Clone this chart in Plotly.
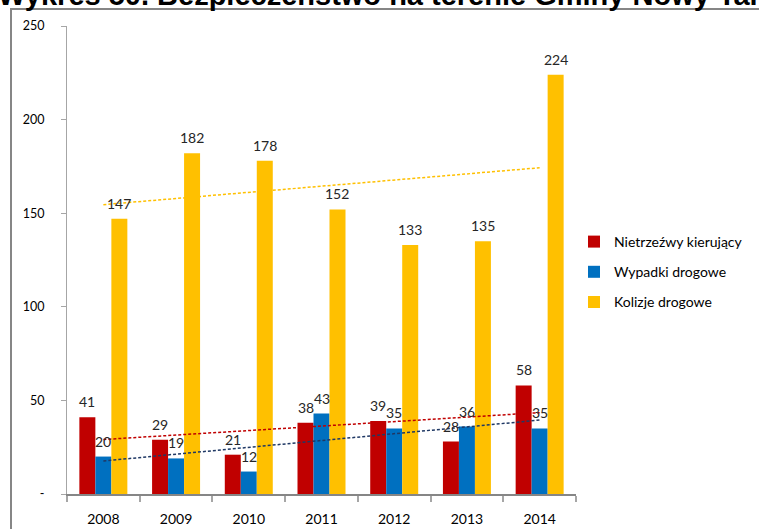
import numpy as np
import plotly.graph_objects as go

# Road safety in Nowy Targ municipality, 2008-2014
years = ["2008", "2009", "2010", "2011", "2012", "2013", "2014"]
drunk_drivers = [41, 29, 21, 38, 39, 28, 58]      # Nietrzeźwy kierujący
accidents = [20, 19, 12, 43, 35, 36, 35]          # Wypadki drogowe
collisions = [147, 182, 178, 152, 133, 135, 224]  # Kolizje drogowe

series_names = ["Nietrzeźwy kierujący", "Wypadki drogowe", "Kolizje drogowe"]
bar_colors = ["#C00000", "#0070C0", "#FFC000"]
trend_colors = ["#C00000", "#1F3864", "#FFC000"]

y_tick_vals = [0, 50, 100, 150, 200, 250]
y_tick_text = ["-", "50", "100", "150", "200", "250"]

title_text = "Wykres 50. Bezpieczeństwo na terenie Gminy Nowy Targ"

FONT = "Lato"
W, H = 759, 529
M_L, M_R, M_T, M_B = 67, 183, 26, 35

fig = go.Figure()
all_series = [drunk_drivers, accidents, collisions]

for name, vals, col in zip(series_names, all_series, bar_colors):
    fig.add_trace(go.Bar(
        x=years, y=vals, name=name, marker_color=col, marker_line_width=0,
        legendgroup=name, hoverinfo="skip",
    ))

# linear trend lines, fitted over the category index
idx = np.arange(len(years))
for name, vals, col in zip(series_names, all_series, trend_colors):
    slope, intercept = np.polyfit(idx, vals, 1)
    fig.add_trace(go.Scatter(
        x=years, y=slope * idx + intercept, mode="lines",
        line=dict(color=col, width=1.5, dash="3px,2px"),
        showlegend=False, hoverinfo="skip",
    ))

# value labels above each bar (category axis -> annotations use the category index)
plot_w = W - M_L - M_R
cat_w = plot_w / len(years)
bar_w = cat_w * (1 - 0.34) / 3
for k, vals in enumerate(all_series):
    for ci, v in enumerate(vals):
        fig.add_annotation(
            x=ci, y=v, xref="x", yref="y", text=str(v), showarrow=False,
            xshift=(k - 1) * bar_w, yshift=15.5, yanchor="middle",
            font=dict(family=FONT, size=14, color="#262626"),
        )

# chart title (runs off the top of the page)
fig.add_annotation(
    x=0, y=1, xref="paper", yref="paper", xanchor="left", yanchor="bottom",
    xshift=-71, yshift=13, text="<b>" + title_text + "</b>", showarrow=False,
    font=dict(family="Liberation Sans", size=29, color="#000000"),
)

# chart area border
fig.add_shape(
    type="rect", xref="paper", yref="paper",
    x0=(11 - M_L) / plot_w, x1=2.0,
    y0=-1.0, y1=(H - M_B - 9) / (H - M_T - M_B),
    line=dict(color="#868686", width=2), fillcolor="rgba(0,0,0,0)", layer="above",
)

fig.update_layout(
    width=W, height=H,
    margin=dict(l=M_L, r=M_R, t=M_T, b=M_B, autoexpand=False),
    paper_bgcolor="white", plot_bgcolor="white",
    barmode="group", bargap=0.34, bargroupgap=0,
    showlegend=True,
    legend=dict(
        xref="container", yref="container",
        x=574 / W, y=1 - 226 / H, xanchor="left", yanchor="top",
        font=dict(family=FONT, size=14, color="#000000"),
        traceorder="grouped", tracegroupgap=9,
        bgcolor="rgba(0,0,0,0)",
    ),
    xaxis=dict(
        type="category", showline=True, linecolor="#868686", linewidth=2,
        ticks="outside", tickson="boundaries", ticklen=6, tickcolor="#A6A6A6",
        tickwidth=1.5, showgrid=False, zeroline=False, automargin=False,
        tickfont=dict(family=FONT, size=14, color="#000000"),
        ticklabelstandoff=11,
    ),
    yaxis=dict(
        range=[0, 250], tickvals=y_tick_vals, ticktext=y_tick_text,
        showline=True, linecolor="#A6A6A6", linewidth=1,
        ticks="outside", ticklen=5, tickcolor="#A6A6A6",
        showgrid=False, zeroline=False, automargin=False,
        tickfont=dict(family=FONT, size=12.5, color="#000000"),
        ticklabelstandoff=14,
    ),
)

fig.write_html("out.html", config={"displayModeBar": False})
